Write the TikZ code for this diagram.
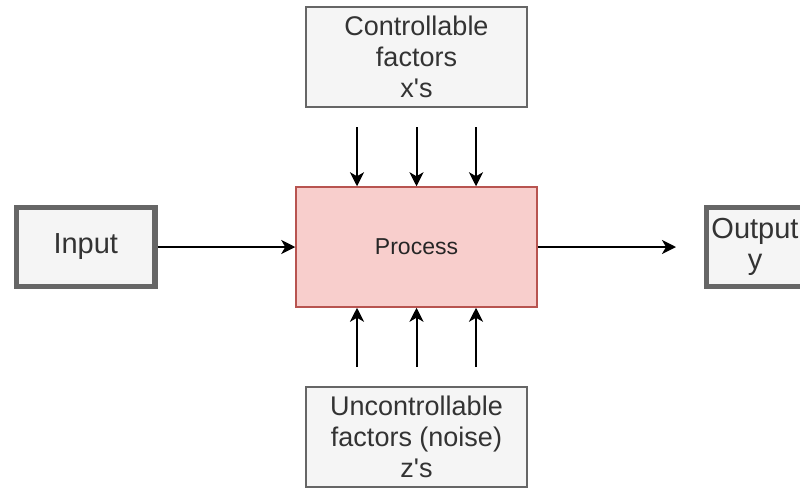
\documentclass[tikz,border=0pt]{standalone}
\usepackage{fontspec}
\setmainfont{Liberation Sans}
\usetikzlibrary{arrows.meta}

\definecolor{grayfill}{HTML}{F5F5F5}
\definecolor{grayline}{HTML}{666666}
\definecolor{graytext}{HTML}{333333}
\definecolor{procfill}{HTML}{F8CECC}
\definecolor{procline}{HTML}{B85450}

\tikzset{
  factorbox/.style={draw=grayline, fill=grayfill, line width=1.5pt, text=graytext, align=center,
    minimum width=221pt, minimum height=100pt, inner sep=0pt, font=\fontsize{27}{31}\selectfont},
  endbox/.style={draw=grayline, fill=grayfill, line width=5.5pt, text=graytext, align=center,
    minimum height=79pt, inner sep=0pt, font=\fontsize{29}{31}\selectfont},
  procbox/.style={draw=procline, fill=procfill, line width=1.5pt, text=black!85,
    minimum width=241pt, minimum height=120pt, inner sep=0pt, font=\fontsize{23}{27}\selectfont},
  arr/.style={line width=2pt, -{Stealth[length=14pt, width=14pt, inset=4pt]}}
}

\begin{document}
\begin{tikzpicture}[x=1pt, y=-1pt]
\clip (0,0) rectangle (800,488);
\fill[white] (0,0) rectangle (800,488);

\node[procbox] (proc) at (416.5, 247) {Process};
\node[factorbox] (ctrl) at (416.5, 57) {Controllable\\factors\\x\textquotesingle s};
\node[factorbox] (unctrl) at (416.5, 437) {Uncontrollable\\factors (noise)\\z\textquotesingle s};
\node[endbox, minimum width=138.5pt] (input) at (85.75, 247) {Input};
\node[endbox, minimum width=97pt] (output) at (755, 247) {Output\\y};

\coordinate (outtip) at (676, 247);
\draw[arr] (input) -- (proc);
\draw[arr] (proc) -- (outtip);

% factor arrows
\foreach \x [count=\i] in {357, 416.5, 476} {
  \coordinate (xs\i) at (\x, 127);
  \coordinate (zs\i) at (\x, 367);
  \draw[arr] (xs\i) -- (xs\i |- proc.north);
  \draw[arr] (zs\i) -- (zs\i |- proc.south);
}
\end{tikzpicture}
\end{document}
